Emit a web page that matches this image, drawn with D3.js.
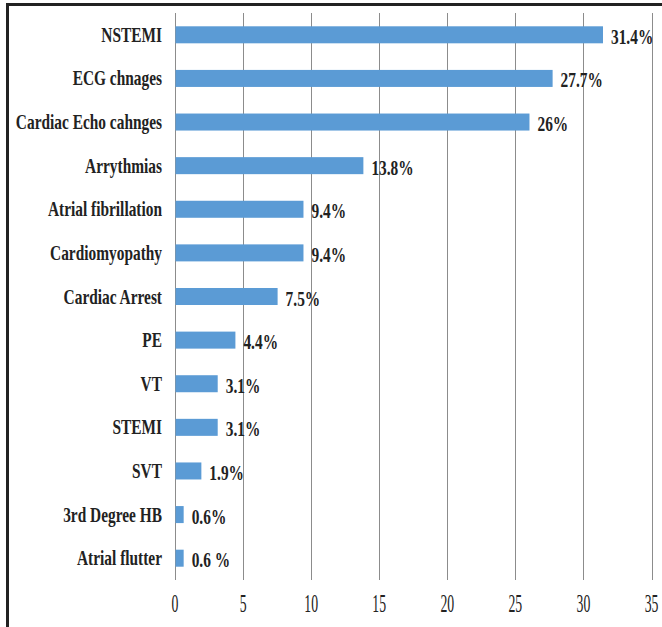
<!DOCTYPE html>
<html>
<head>
<meta charset="utf-8">
<script src="https://cdn.jsdelivr.net/npm/d3@7"></script>
<style>
  body { margin: 0; background: #fff; }
  svg { display: block; }
</style>
</head>
<body>
<div class="render"></div>
<script>
// values
var categories = ["NSTEMI", "ECG chnages", "Cardiac Echo cahnges", "Arrythmias",
    "Atrial fibrillation", "Cardiomyopathy", "Cardiac Arrest", "PE", "VT",
    "STEMI", "SVT", "3rd Degree HB", "Atrial flutter"];
var values = [31.4, 27.7, 26, 13.8, 9.4, 9.4, 7.5, 4.4, 3.1, 3.1, 1.9, 0.6, 0.6];
var value_labels = ["31.4%", "27.7%", "26%", "13.8%", "9.4%", "9.4%", "7.5%",
    "4.4%", "3.1%", "3.1%", "1.9%", "0.6%", "0.6 %"];
var x_ticks = [0, 5, 10, 15, 20, 25, 30, 35];

var width = 662, height = 627;
var squeeze = 0.7;   // the source font is a narrow Times
var serif = "'Liberation Serif', 'Times New Roman', serif";

var svg = d3.select(".render").append("svg")
    .attr("width", width)
    .attr("height", height);

var x = d3.scaleLinear().domain([0, 35]).range([175, 651.5]);
var y = d3.scaleBand().domain(categories).range([13, 580])
    .paddingInner(0.61).paddingOuter(0.305);

var rows = categories.map(function (c, i) {
    return { name: c, value: values[i], label: value_labels[i] };
});

// frame (top and left edges)
svg.append("line")
    .attr("x1", 6).attr("x2", width).attr("y1", 4.5).attr("y2", 4.5)
    .attr("stroke", "#222").attr("stroke-width", 3);
svg.append("line")
    .attr("x1", 7.5).attr("x2", 7.5).attr("y1", 3).attr("y2", height)
    .attr("stroke", "#222").attr("stroke-width", 3);

// gridlines
svg.append("g").selectAll("line").data(x_ticks).enter().append("line")
    .attr("x1", function (d) { return Math.round(x(d)) + 0.5; })
    .attr("x2", function (d) { return Math.round(x(d)) + 0.5; })
    .attr("y1", 13).attr("y2", 580)
    .attr("stroke", "#8c8c8c").attr("stroke-width", 1);

// tick labels
svg.append("g").selectAll("text").data(x_ticks).enter().append("text")
    .attr("transform", function (d) { return "translate(" + x(d) + ",612) scale(0.55,1)"; })
    .attr("text-anchor", "middle")
    .attr("font-family", serif)
    .attr("font-size", 25)
    .attr("fill", "#222")
    .text(function (d) { return d; });

// bars
svg.append("g").selectAll("rect").data(rows).enter().append("rect")
    .attr("x", x(0) + 0.5)
    .attr("y", function (d) { return y(d.name); })
    .attr("width", function (d) { return x(d.value) - x(0); })
    .attr("height", y.bandwidth())
    .attr("fill", "#5b9bd5");

// category labels
svg.append("g").selectAll("text").data(rows).enter().append("text")
    .attr("transform", function (d) {
        return "translate(162," + (y(d.name) + y.bandwidth() / 2 + 7) + ") scale(" + squeeze + ",1)";
    })
    .attr("text-anchor", "end")
    .attr("font-family", serif)
    .attr("font-weight", "bold")
    .attr("font-size", 22)
    .attr("fill", "#222")
    .text(function (d) { return d.name; });

// value labels
svg.append("g").selectAll("text").data(rows).enter().append("text")
    .attr("transform", function (d) {
        return "translate(" + (x(d.value) + 8.5) + "," + (y(d.name) + y.bandwidth() / 2 + 9) + ") scale(" + squeeze + ",1)";
    })
    .attr("font-family", serif)
    .attr("font-weight", "bold")
    .attr("font-size", 22)
    .attr("fill", "#222")
    .text(function (d) { return d.label; });
</script>
</body>
</html>
